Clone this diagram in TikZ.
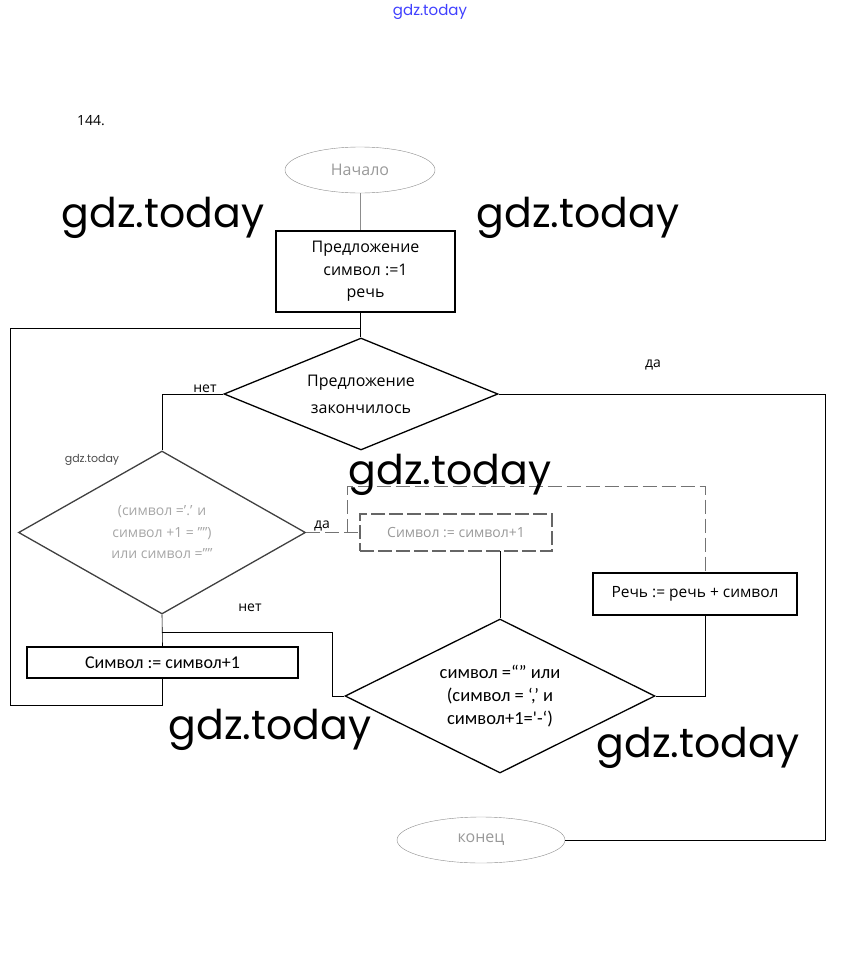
\documentclass[tikz,border=0pt]{standalone}
\usepackage{fontspec}
\setmainfont{Open Sans}
\newfontfamily\calibfont{Carlito}
\newfontfamily\wmfont{Poppins}
\usetikzlibrary{shapes.geometric}

\begin{document}
\begin{tikzpicture}[x=1pt,y=-1pt,semithick]
        \tikzstyle{blocknode}=[
            rectangle,
            draw=black,
            line width=2pt,
            inner sep=0pt,
            align=center,
            font=\fontsize{16}{22.5}\selectfont
        ]
        \tikzstyle{decnode}=[
            diamond,
            draw=black,
            line width=1.3pt,
            inner sep=0pt,
            align=center
        ]
        \tikzstyle{termnode}=[
            ellipse,
            draw=black!45,
            thin,
            inner sep=0pt,
            text=black!40,
            font=\fontsize{16}{16}\selectfont
        ]
        \tikzstyle{lbl}=[font=\fontsize{14}{14}\selectfont, inner sep=1pt]
        \tikzstyle{wmnode}=[font=\wmfont\fontsize{41}{41}\selectfont, inner sep=0pt]
        \tikzstyle{dashline}=[draw=black!55, dash pattern=on 14pt off 5pt]

        \useasboundingbox (0,0) rectangle (860,977);

        % header
        \node[font=\wmfont\fontsize{15}{15}\selectfont, text=blue!75] (site) at (430,12) {gdz.today};
        \node[lbl] (num) at (91,121) {144.};

        % blocks
        \node[termnode, minimum width=150pt, minimum height=46pt] (start) at (360,170) {Начало};
        \node[blocknode, minimum width=179pt, minimum height=81pt] (init) at (365.5,271.5) {Предложение\\символ :=1\\речь};
        \node[decnode, aspect=2.45, minimum width=274pt, minimum height=112pt, font=\fontsize{16}{27}\selectfont] (cond1) at (361,394) {Предложение\\закончилось};
        \node[decnode, aspect=1.76, draw=black!75, minimum width=287pt, minimum height=163pt, text=black!35, font=\fontsize{14}{21.5}\selectfont] (cond2) at (162,532.5) {(символ ='.' и\\символ +1 = ”")\\или символ =””};
        \node[blocknode, draw=black!60, dash pattern=on 14pt off 4pt, line width=1.6pt, minimum width=192pt, minimum height=37pt, text=black!40, font=\fontsize{14}{14}\selectfont] (sym2) at (456,532.5) {Символ := символ+1};
        \node[blocknode, minimum width=204pt, minimum height=42pt, font=\fontsize{15.5}{15.5}\selectfont] (speech) at (695,594) {Речь := речь + символ};
        \node[blocknode, minimum width=271pt, minimum height=31pt, font=\calibfont\fontsize{18}{18}\selectfont] (sym1) at (162.5,662.5) {Символ := символ+1};
        \node[decnode, aspect=2, minimum width=310pt, minimum height=154pt, font=\calibfont\fontsize{18.5}{23}\selectfont] (cond3) at (500,696) {символ =“” или\\(символ = ‘,’ и\\символ+1='-‘)};
        \node[termnode, minimum width=168pt, minimum height=46pt] (stop) at (481,840) {конец};

        % corner points
        \coordinate (ljoin) at (360,328);
        \coordinate (lcorner) at (10,705);
        \coordinate (rcorner) at (825,394);
        \coordinate (nbr) at (162,632);
        \coordinate (c3in) at (332,696);
        \coordinate (dbr) at (347,532.5);
        \coordinate (dtop) at (347,486);
        \coordinate (sptop) at (705,573);
        \coordinate (spbot) at (705,615);
        \coordinate (s2bot) at (500,551);

        % connectors
        \draw[black!45] (start) -- (start |- init.north);
        \draw (init.south -| ljoin) -- (cond1.north -| ljoin);
        \draw (cond1.west) -| node[lbl, pos=0.15, above]{нет} (cond2.north);
        \draw (cond1.east) -- (rcorner) |- (stop.east);
        \node[lbl] (yes1) at (653,365) {да};
        \draw (cond2.south) -- (sym1.north);
        \draw (sym1.south) -- (sym1.south |- lcorner) -- (lcorner) |- (ljoin);
        \draw (nbr) -| (c3in) -- (cond3.west);
        \node[lbl] (no2) at (250,608) {нет};
        \draw[dashline] (cond2.east) -- node[lbl, pos=0.3, above, text=black]{да} (sym2.west);
        \draw[dashline] (dbr) -- (dtop) -| (sptop);
        \draw (s2bot) -- (cond3.north);
        \draw (spbot) |- (cond3.east);

        % watermarks
        \node[wmnode] (wm1) at (163,218) {gdz.today};
        \node[wmnode] (wm2) at (578,218) {gdz.today};
        \node[wmnode] (wm3) at (450,475) {gdz.today};
        \node[wmnode] (wm4) at (270,730) {gdz.today};
        \node[wmnode] (wm5) at (698,748) {gdz.today};
        \node[font=\wmfont\fontsize{11}{11}\selectfont, text=black!70] (wm6) at (92,460) {gdz.today};
\end{tikzpicture}
\end{document}
